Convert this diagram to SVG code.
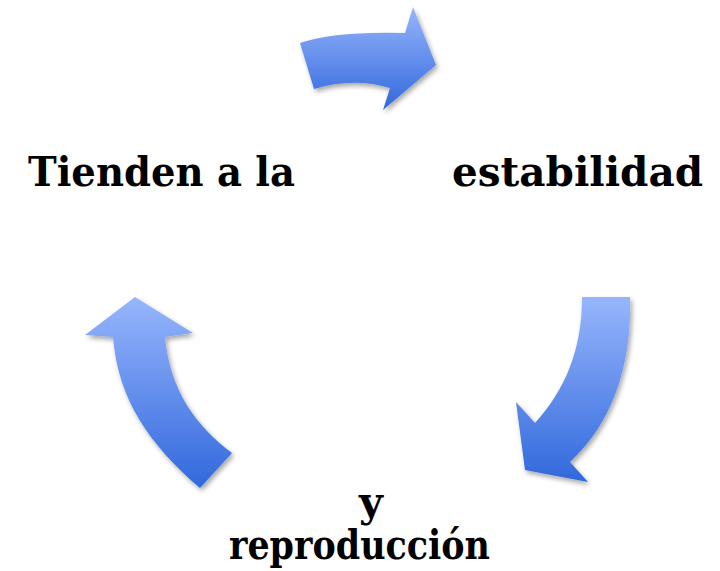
<svg xmlns="http://www.w3.org/2000/svg" width="720" height="571" viewBox="0 0 720 571">
<style>
.lbl{font-family:"DejaVu Serif","Liberation Serif",serif;font-weight:bold;font-size:41px;fill:#000}
.arr{fill:url(#g);filter:url(#sh)}
</style>
<defs>
<linearGradient id="g" x1="0" y1="0" x2="0" y2="1">
<stop offset="0" stop-color="#97b6fc"/>
<stop offset="1" stop-color="#3168dc"/>
</linearGradient>
<filter id="sh" x="-20%" y="-20%" width="150%" height="150%">
<feGaussianBlur in="SourceAlpha" stdDeviation="2.5"/>
<feOffset dx="2" dy="3" result="b"/>
<feComponentTransfer><feFuncA type="linear" slope="0.35"/></feComponentTransfer>
<feMerge><feMergeNode/><feMergeNode in="SourceGraphic"/></feMerge>
</filter>
</defs>
<g id="connectors">
<path id="arrow-top" class="arr" d="M300,43 Q335,31 405,33 L413,7 L436,65 L383,110 L390,88 Q353,77 314,89 Z"/>
<path id="arrow-right" class="arr" d="M582,297 L630,297 C632,370 610,425 570,462 L588,482 L525,470 L516,402 L535,423 C565,390 582,350 582,297 Z"/>
<path id="arrow-left" class="arr" d="M135,297 L193,333 L165,337 C170,390 195,425 232,453 L200,488 C150,445 118,400 113,337 L85,335 Z"/>
</g>
<g id="node-tienden"><text class="lbl" x="28" y="186" textLength="267" lengthAdjust="spacingAndGlyphs">Tienden a la</text></g>
<g id="node-estabilidad"><text class="lbl" x="452" y="186" textLength="251" lengthAdjust="spacingAndGlyphs">estabilidad</text></g>
<g id="node-reproduccion">
<text class="lbl" x="371" y="516" text-anchor="middle">y</text>
<text class="lbl" x="229" y="559" textLength="261" lengthAdjust="spacingAndGlyphs">reproducción</text>
</g>
</svg>
